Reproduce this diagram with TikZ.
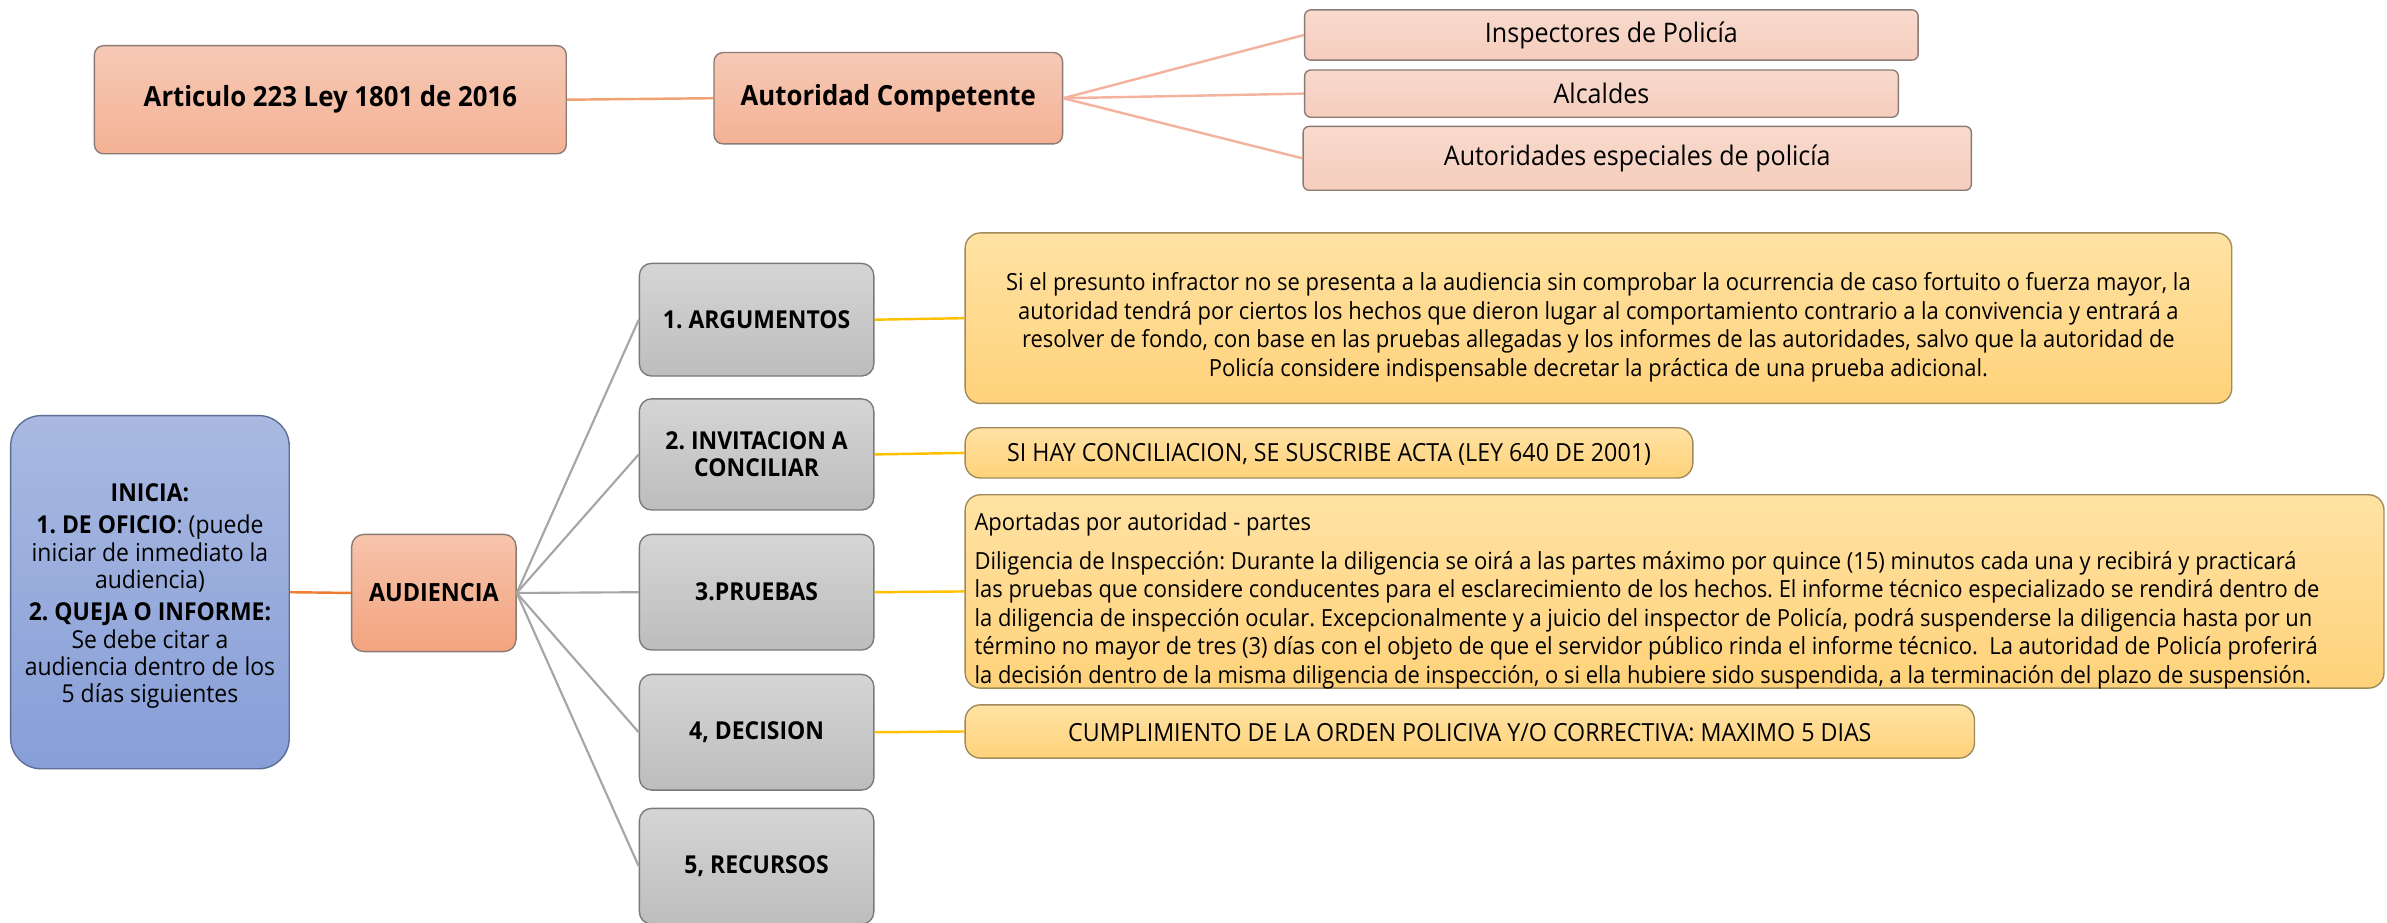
\documentclass[tikz,border=0pt]{standalone}
\usepackage{fontspec}
\setmainfont{Open Sans}[FakeStretch=0.93]
\frenchspacing
\definecolor{pkT}{HTML}{F6C9B5}
\definecolor{pkB}{HTML}{F4B295}
\definecolor{plT}{HTML}{F8DACD}
\definecolor{plB}{HTML}{F5CDBD}
\definecolor{pkD}{HTML}{8B7B74}
\definecolor{blT}{HTML}{A9B9E1}
\definecolor{blB}{HTML}{879ED7}
\definecolor{blD}{HTML}{5D6E95}
\definecolor{auT}{HTML}{F6C4AC}
\definecolor{auB}{HTML}{F3A37F}
\definecolor{grT}{HTML}{D5D5D5}
\definecolor{grB}{HTML}{BDBDBD}
\definecolor{grD}{HTML}{7A7A7A}
\definecolor{ylT}{HTML}{FFE2A3}
\definecolor{ylB}{HTML}{FFD27A}
\definecolor{ylD}{HTML}{A08A5A}
\definecolor{lnSal}{HTML}{F4B39E}
\definecolor{lnOr}{HTML}{F0A172}
\definecolor{lnOr2}{HTML}{ED7D31}
\definecolor{lnGr}{HTML}{A6A6A6}
\definecolor{lnYl}{HTML}{FFC000}
\tikzset{
  basebox/.style={rectangle, inner sep=0pt, align=center, line width=0.9pt},
  pinkbox/.style={basebox, draw=pkD, top color=pkT, bottom color=pkB, rounded corners=6pt,
     font=\fontsize{18.2}{21}\selectfont\bfseries},
  palebox/.style={basebox, draw=pkD, top color=plT, bottom color=plB, rounded corners=4pt,
     font=\fontsize{17.7}{20}\selectfont},
  bluebox/.style={basebox, draw=blD, top color=blT, bottom color=blB, rounded corners=20pt},
  blutxt/.style={inner sep=0pt, align=center, font=\fontsize{16.2}{17.9}\selectfont},
  audbox/.style={basebox, draw=pkD, top color=auT, bottom color=auB, rounded corners=8pt,
     font=\fontsize{16.5}{18}\selectfont\bfseries},
  greybox/.style={basebox, draw=grD, top color=grT, bottom color=grB, rounded corners=8pt,
     font=\fontsize{16.2}{18}\selectfont\bfseries},
  yelbox/.style={basebox, draw=ylD, top color=ylT, bottom color=ylB, rounded corners=10pt},
  captxt/.style={inner sep=0pt, align=center, font=\fontsize{16.4}{18.7}\selectfont},
  partxt/.style={inner sep=0pt, font=\fontsize{15.5}{18.7}\selectfont},
  salline/.style={draw=lnSal, line width=1.6pt},
  orline/.style={draw=lnOr, line width=1.6pt},
  or2line/.style={draw=lnOr2, line width=1.6pt},
  grline/.style={draw=lnGr, line width=1.4pt},
  ylline/.style={draw=lnYl, line width=1.6pt},
}
\begin{document}
\begin{tikzpicture}[x=1pt,y=-1pt]
\clip (0,0) rectangle (1568,606);
\fill[white] (0,0) rectangle (1568,606);
% top
\node[pinkbox, minimum width=310pt, minimum height=71pt] (art) at (217,65.5) {Articulo 223 Ley 1801 de 2016};
\node[pinkbox, minimum width=229pt, minimum height=60pt] (aut) at (583.5,64.5) {Autoridad Competente};
\node[palebox, minimum width=403pt, minimum height=33pt] (insp) at (1058.5,23) {Inspectores de Policía};
\node[palebox, minimum width=390pt, minimum height=31pt] (alc) at (1052,61.5) {Alcaldes};
\node[palebox, minimum width=439pt, minimum height=42pt] (aesp) at (1075.5,104) {Autoridades especiales de policía};
\draw[orline] (art.east) -- (aut.west);
\draw[salline] (aut.east) -- (insp.west);
\draw[salline] (aut.east) -- (alc.west);
\draw[salline] (aut.east) -- (aesp.west);
% left
\node[bluebox, minimum width=183pt, minimum height=232pt] (ini) at (98.5,389) {};
\node[blutxt] (init) at (98.5,391.5)
 {\textbf{INICIA:}\\[3.5pt]
  \textbf{1. DE OFICIO}: (puede\\ iniciar de inmediato la\\ audiencia)\\[3.5pt]
  \textbf{2. QUEJA O INFORME:}\\ Se debe citar a\\ audiencia dentro de los\\ 5 días siguientes};
\node[audbox, minimum width=108pt, minimum height=77pt] (aud) at (285,389.5) {AUDIENCIA};
\draw[or2line] (ini.east) -- (aud.west);
% grey steps
\node[greybox, minimum width=154pt, minimum height=74pt] (s1) at (497,210) {1. ARGUMENTOS};
\node[greybox, minimum width=154pt, minimum height=73pt] (s2) at (497,298.5) {2. INVITACION A\\ CONCILIAR};
\node[greybox, minimum width=154pt, minimum height=76pt] (s3) at (497,389) {3.PRUEBAS};
\node[greybox, minimum width=154pt, minimum height=76pt] (s4) at (497,481) {4, DECISION};
\node[greybox, minimum width=154pt, minimum height=76pt] (s5) at (497,569) {5, RECURSOS};
\foreach \s in {s1,s2,s3,s4,s5} \draw[grline] (aud.east) -- (\s.west);
% yellow
\node[yelbox, minimum width=832pt, minimum height=112pt] (y1) at (1050,209) {};
\node[partxt, align=center] (y1t) at (1050,215)
 {Si el presunto infractor no se presenta a la audiencia sin comprobar la ocurrencia de caso fortuito o fuerza mayor, la\\
  autoridad tendrá por ciertos los hechos que dieron lugar al comportamiento contrario a la convivencia y entrará a\\
  resolver de fondo, con base en las pruebas allegadas y los informes de las autoridades, salvo que la autoridad de\\
  Policía considere indispensable decretar la práctica de una prueba adicional.};
\node[yelbox, minimum width=478pt, minimum height=33pt] (y2) at (873,297.5) {};
\node[captxt] (y2t) at (873,298.5) {SI HAY CONCILIACION, SE SUSCRIBE ACTA (LEY 640 DE 2001)};
\node[yelbox, minimum width=932pt, minimum height=127pt] (y3) at (1100,388.5) {};
\node[partxt, align=left, anchor=west] (y3t) at (640,394.5)
 {Aportadas por autoridad - partes\\[7pt]
  Diligencia de Inspección: Durante la diligencia se oirá a las partes máximo por quince (15) minutos cada una y recibirá y practicará\\
  las pruebas que considere conducentes para el esclarecimiento de los hechos. El informe técnico especializado se rendirá dentro de\\
  la diligencia de inspección ocular. Excepcionalmente y a juicio del inspector de Policía, podrá suspenderse la diligencia hasta por un\\
  término no mayor de tres (3) días con el objeto de que el servidor público rinda el informe técnico.\ \ La autoridad de Policía proferirá\\
  la decisión dentro de la misma diligencia de inspección, o si ella hubiere sido suspendida, a la terminación del plazo de suspensión.};
\node[yelbox, minimum width=663pt, minimum height=35pt] (y4) at (965.5,480.5) {};
\node[captxt] (y4t) at (965.5,481.5) {CUMPLIMIENTO DE LA ORDEN POLICIVA Y/O CORRECTIVA: MAXIMO 5 DIAS};
\draw[ylline] (s1.east) -- (y1.west);
\draw[ylline] (s2.east) -- (y2.west);
\draw[ylline] (s3.east) -- (y3.west);
\draw[ylline] (s4.east) -- (y4.west);
\end{tikzpicture}
\end{document}
